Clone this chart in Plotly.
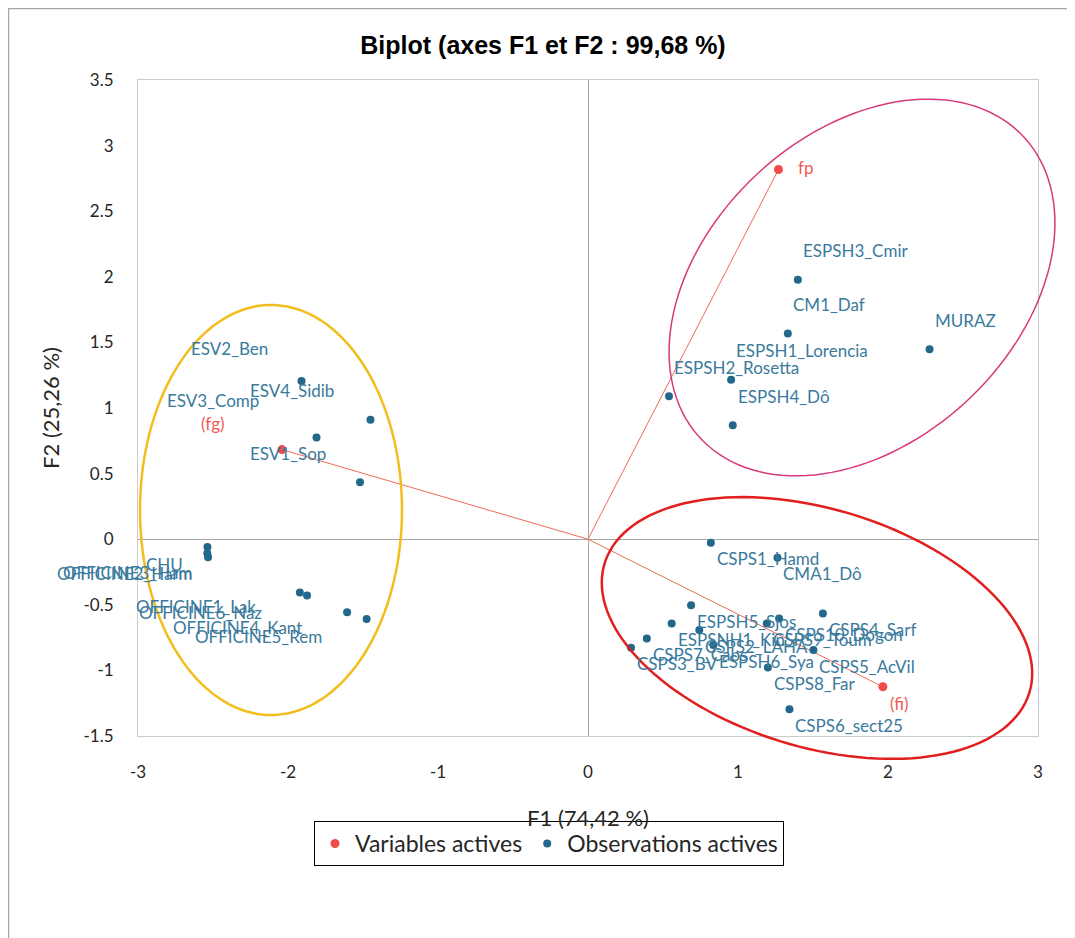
import numpy as np
import plotly.graph_objects as go

# ---------------- data ----------------
obs_names = [
    "ESV1_Sop", "ESV2_Ben", "ESV3_Comp", "ESV4_Sidib",
    "CHU", "OFFICINE2_Harm", "OFFICINE3_Ham",
    "OFFICINE1_Lak", "OFFICINE6_Naz", "OFFICINE4_Kant", "OFFICINE5_Rem",
    "ESPSH3_Cmir", "CM1_Daf", "MURAZ", "ESPSH1_Lorencia", "ESPSH2_Rosetta", "ESPSH4_Dô",
    "CSPS1_Hamd", "CMA1_Dô", "ESPSH5_Sjos", "CSPS4_Sarf", "ESPSNH1_Kin", "CSPS10_Dogon",
    "CSPS9_Toum", "CSPS2_LAHA", "CSPS7_Cabs", "CSPS3_BV", "ESPSH6_Sya", "CSPS5_AcVil",
    "CSPS8_Far", "CSPS6_sect25",
]
obs_f1 = [
    -1.52, -1.91, -1.81, -1.45,
    -2.537, -2.538, -2.533,
    -1.921, -1.873, -1.606, -1.476,
    1.399, 1.332, 2.277, 0.954, 0.540, 0.965,
    0.819, 1.263, 0.687, 1.566, 0.558, 1.274,
    1.192, 0.742, 0.392, 0.287, 0.836, 1.503,
    1.199, 1.343,
]
obs_f2 = [
    0.434, 1.206, 0.775, 0.910,
    -0.059, -0.107, -0.137,
    -0.406, -0.429, -0.556, -0.609,
    1.978, 1.567, 1.447, 1.216, 1.089, 0.868,
    -0.028, -0.142, -0.503, -0.566, -0.642, -0.604,
    -0.642, -0.693, -0.756, -0.828, -0.807, -0.845,
    -0.977, -1.297,
]

var_names = ["fp", "fg", "fi"]
var_labels = ["fp", "(fg)", "(fi)"]
var_f1 = [1.270, -2.040, 1.966]
var_f2 = [2.818, 0.683, -1.125]

x_ticks = [-3, -2, -1, 0, 1, 2, 3]
y_ticks = [-1.5, -1, -0.5, 0, 0.5, 1, 1.5, 2, 2.5, 3, 3.5]

title_text = "Biplot (axes F1 et F2 : 99,68 %)"
x_title = "F1 (74,42 %)"
y_title = "F2 (25,26 %)"

# ---------------- layout / style ----------------
PAGE_OFF = 8                      # page body margin of the browser
W, H = 1075 - PAGE_OFF, 938 - PAGE_OFF
PLOT_L, PLOT_T, PLOT_R, PLOT_B = 138, 80, 1038, 736   # absolute page pixels
ML, MT = PLOT_L - PAGE_OFF, PLOT_T - PAGE_OFF
MR = 1075 - PLOT_R
MB = 938 - PLOT_B
XR = [-3, 3]
YR = [-1.5, 3.5]
PW, PH = PLOT_R - PLOT_L, PLOT_B - PLOT_T

OBS_COL = "#23678A"
OBS_TXT = "#3A7A9C"
VAR_COL = "#F24B4B"
VAR_TXT = "#EE5A55"
LINE_COL = "#EE6B5B"
LBL_FONT = "Lato"

# label placement (anchor, x shift px, y shift px up)
label_offsets = {
    "ESV1_Sop": ("right", -33, 29), "ESV2_Ben": ("right", -33, 32),
    "ESV3_Comp": ("right", -57, 37), "ESV4_Sidib": ("right", -36, 29),
    "CHU": ("right", -23, -18), "OFFICINE2_Harm": ("right", -13, -20),
    "OFFICINE3_Ham": ("right", -15, -15),
    "OFFICINE1_Lak": ("right", -43, -14), "OFFICINE6_Naz": ("right", -44, -17),
    "OFFICINE4_Kant": ("right", -44, -15), "OFFICINE5_Rem": ("right", -44, -17),
}
for n in ["ESPSH3_Cmir", "CM1_Daf", "MURAZ", "ESPSH1_Lorencia", "ESPSH2_Rosetta", "ESPSH4_Dô"]:
    label_offsets[n] = ("left", 4, 29)
for n in obs_names[17:]:
    label_offsets[n] = ("left", 5, -16)
var_offsets = {"fp": ("left", 18, 2), "fg": ("right", -56, 26), "fi": ("left", 6, -17)}


def px_to_paper(px, py):
    return (px - PLOT_L) / PW, (PLOT_B - py) / PH


def ellipse_path(cx, cy, a, b, theta_deg, n=140):
    th = np.radians(theta_deg)
    t = np.linspace(0, 2 * np.pi, n)
    px = cx + a * np.cos(t) * np.cos(th) - b * np.sin(t) * np.sin(th)
    py = cy - (a * np.cos(t) * np.sin(th) + b * np.sin(t) * np.cos(th))
    pts = [px_to_paper(x, y) for x, y in zip(px, py)]
    return "M " + " L ".join(f"{x:.5f},{y:.5f}" for x, y in pts) + " Z"


fig = go.Figure()

# vectors from origin to variables
lx, ly = [], []
for x, y in zip(var_f1, var_f2):
    lx += [0, x, None]
    ly += [0, y, None]
fig.add_trace(go.Scatter(x=lx, y=ly, mode="lines", line=dict(color=LINE_COL, width=1),
                         showlegend=False, hoverinfo="skip"))

fig.add_trace(go.Scatter(x=var_f1, y=var_f2, mode="markers", name="Variables actives",
                         text=var_names, marker=dict(color=VAR_COL, size=9)))
fig.add_trace(go.Scatter(x=obs_f1, y=obs_f2, mode="markers", name="Observations actives",
                         text=obs_names, marker=dict(color=OBS_COL, size=8)))

ann = []
for n, x, y in zip(obs_names, obs_f1, obs_f2):
    anc, dx, dy = label_offsets[n]
    ann.append(dict(x=x, y=y, xref="x", yref="y", text=n, showarrow=False,
                    xanchor=anc, yanchor="middle", xshift=dx, yshift=dy, borderpad=0,
                    font=dict(family=LBL_FONT, size=17, color=OBS_TXT)))
for n, lab, x, y in zip(var_names, var_labels, var_f1, var_f2):
    anc, dx, dy = var_offsets[n]
    ann.append(dict(x=x, y=y, xref="x", yref="y", text=lab, showarrow=False,
                    xanchor=anc, yanchor="middle", xshift=dx, yshift=dy, borderpad=0,
                    font=dict(family=LBL_FONT, size=17, color=VAR_TXT)))

shapes = [
    dict(type="path", path=ellipse_path(271, 510, 131, 205, 0), xref="paper", yref="paper",
         line=dict(color="#F2BE1E", width=2.5)),
    dict(type="path", path=ellipse_path(862, 287.5, 221, 154.5, 43), xref="paper", yref="paper",
         line=dict(color="#D8387C", width=1.5)),
    dict(type="path", path=ellipse_path(817, 628, 222, 119, -16.9), xref="paper", yref="paper",
         line=dict(color="#E21F1F", width=2.5)),
    # outer chart border (left and top visible)
    dict(type="rect", xref="paper", yref="paper",
         x0=(8.5 - PLOT_L) / PW, x1=(1100 - PLOT_L) / PW,
         y0=(PLOT_B - 960) / PH, y1=(PLOT_B - 8.5) / PH,
         line=dict(color="#A6A6A6", width=1.5), fillcolor="rgba(0,0,0,0)"),
]

axis_common = dict(showgrid=False, zeroline=True, zerolinecolor="#A6A6A6", zerolinewidth=1,
                   showline=True, linecolor="#CCCCCC", linewidth=1, mirror=True, ticks="",
                   tickfont=dict(family=LBL_FONT, size=17, color="#262626"))

fig.update_layout(
    width=W, height=H,
    margin=dict(l=ML, r=MR, t=MT, b=MB),
    paper_bgcolor="white", plot_bgcolor="white",
    title=dict(text=title_text, x=(543 - PAGE_OFF) / W, xref="container", xanchor="center",
               y=1 - (45 - PAGE_OFF) / H, yref="container", yanchor="middle",
               font=dict(family="Liberation Sans, Arial", size=25,
                         color="#000000", weight="bold")),
    xaxis=dict(range=XR, tickvals=x_ticks, ticktext=[f"{v:g}" for v in x_ticks],
               ticklabelstandoff=21,
               title=dict(text=x_title, standoff=29,
                          font=dict(family=LBL_FONT, size=22, color="#262626")),
               **axis_common),
    yaxis=dict(range=YR, tickvals=y_ticks, ticktext=[f"{v:g}" for v in y_ticks],
               ticklabelstandoff=20,
               title=dict(text=y_title, standoff=17,
                          font=dict(family=LBL_FONT, size=22, color="#262626")),
               **axis_common),
    legend=dict(orientation="h", x=(314 - PLOT_L) / PW, y=(PLOT_B - 821) / PH,
                xanchor="left", yanchor="top", bordercolor="#000000", borderwidth=1,
                font=dict(family=LBL_FONT, size=23, color="#262626"),
                itemwidth=30),
    annotations=ann,
    shapes=shapes,
    showlegend=True,
)

fig.write_html("out.html")
